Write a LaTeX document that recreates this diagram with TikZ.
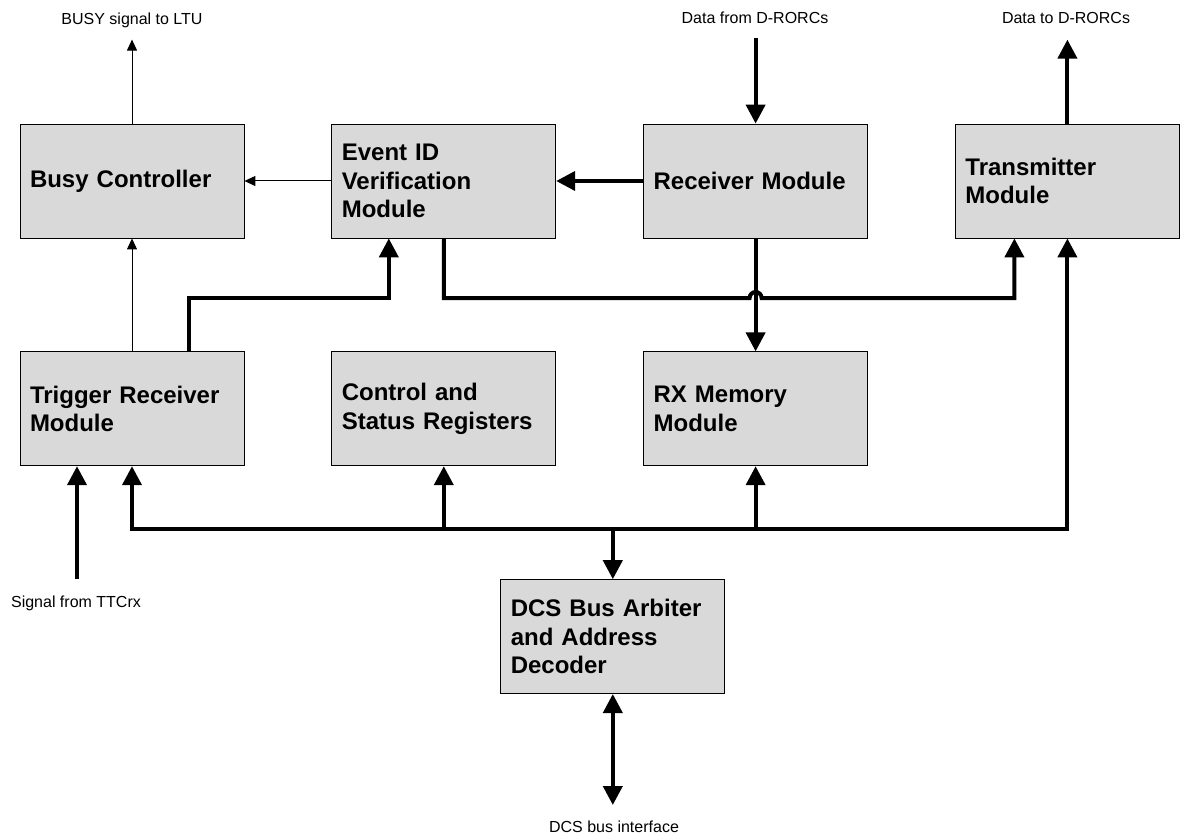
\documentclass[tikz,border=0pt]{standalone}
\usepackage{fontspec}
\setmainfont{Liberation Sans}
\usetikzlibrary{positioning,arrows.meta}

\begin{document}
\begin{tikzpicture}[x=1pt,y=-1pt,node distance=87pt,
		smalltip/.tip={Triangle[width=10pt,length=11pt]},
		bigtip/.tip={Triangle[width=19pt,length=19pt]},
		thin line/.style={line width=1pt,-smalltip},
		thick line/.style={line width=4pt,-bigtip},
		main node/.style={rectangle,draw,line width=0.8pt,fill=gray!30,minimum width=224pt,minimum height=114pt,
			text width=204pt,inner xsep=10pt,align=left,font=\fontsize{24}{28.5}\selectfont\bfseries},
		label node/.style={inner sep=0pt,anchor=base,font=\fontsize{16}{19}\selectfont}]

		\useasboundingbox (0,0) rectangle (1180,834);

		\node[main node] (busy) at (132,181) {Busy Controller};
		\node[main node] (evid) [right=of busy] {Event ID\\Verification\\Module};
		\node[main node] (recv) [right=of evid] {Receiver Module};
		\node[main node] (tx) [right=of recv] {Transmitter\\Module};
		\node[main node] (trig) [below=113pt of busy] {Trigger Receiver\\Module};
		\node[main node] (csr) [below=113pt of evid] {Control and\\Status Registers};
		\node[main node] (rxmem) [below=113pt of recv] {RX Memory\\Module};
		\node[main node] (dcs) [below=113pt of csr, xshift=169pt] {DCS Bus Arbiter\\and Address\\Decoder};

		\coordinate (midrow) at (0,298);
		\coordinate (busrow) at (0,529);
		\coordinate (busyout) at ([yshift=84pt]busy.north);
		\coordinate (rorcin) at ([yshift=86pt]recv.north);
		\coordinate (rorcout) at ([yshift=84pt]tx.north);
		\coordinate (ttcin) at ([xshift=-55pt,yshift=-113pt]trig.south);
		\coordinate (dcsout) at ([yshift=-111pt]dcs.south);

		\node[label node] (busylbl) at (132,25) {BUSY signal to LTU};
		\node[label node] (rorcinlbl) at (755,24) {Data from D-RORCs};
		\node[label node] (rorcoutlbl) at (1066,24) {Data to D-RORCs};
		\node[label node] (ttclbl) at (76,607) {Signal from TTCrx};
		\node[label node] (dcslbl) at (614,832) {DCS bus interface};

		\draw[thin line] (busy.north) -- (busyout);
		\draw[thin line] (evid.west) -- (busy.east);
		\draw[thin line] (trig.north) -- (busy.south);

		\draw[thick line] (recv.west) -- (evid.east);
		\draw[thick line] (rorcin) -- (recv.north);
		\draw[thick line] (tx.north) -- (rorcout);
		\draw[thick line] (recv.south) -- (rxmem.north);
		\draw[thick line] ([xshift=57pt]trig.north) |- ([xshift=-55pt]evid.south |- midrow) -- ([xshift=-55pt]evid.south);
		\draw[thick line] (evid.south) |- ([xshift=-6pt]recv.south |- midrow) arc[start angle=180,end angle=0,radius=6pt]
			-| ([xshift=-53pt]tx.south);

		% DCS bus
		\draw[thick line,bigtip-bigtip] (trig.south) -- (trig.south |- busrow) -- (tx.south |- busrow) -- (tx.south);
		\draw[thick line] (csr.south |- busrow) -- (csr.south);
		\draw[thick line] (rxmem.south |- busrow) -- (rxmem.south);
		\draw[thick line] (dcs.north |- busrow) -- (dcs.north);
		\draw[thick line] (ttcin) -- (ttcin |- trig.south);
		\draw[thick line,bigtip-bigtip] (dcs.south) -- (dcsout);
\end{tikzpicture}
\end{document}
